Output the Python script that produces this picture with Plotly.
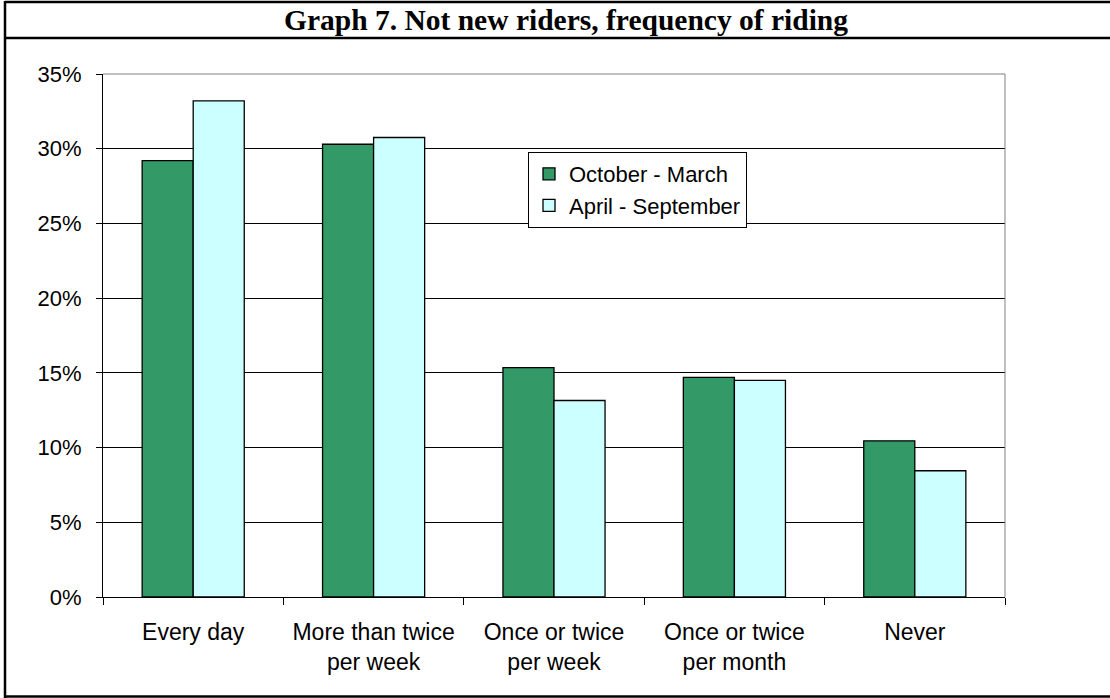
import plotly.graph_objects as go

categories = ["Every day", "More than twice<br>per week", "Once or twice<br>per week",
              "Once or twice<br>per month", "Never"]
oct_mar = [29.2, 30.3, 15.35, 14.7, 10.45]
apr_sep = [33.2, 30.75, 13.15, 14.5, 8.45]
series_names = ["October - March", "April - September"]
title_text = "Graph 7. Not new riders, frequency of riding"

W, H = 1110, 698
L, R, T, B = 103, 1005, 74, 597
pw, ph = R - L, B - T

def px(x):
    return (x - L) / pw

def py(y):
    return (B - y) / ph

fig = go.Figure()
fig.add_trace(go.Bar(x=categories, y=oct_mar, name=series_names[0],
                     marker=dict(color="#339966", line=dict(color="#000000", width=1.3))))
fig.add_trace(go.Bar(x=categories, y=apr_sep, name=series_names[1],
                     marker=dict(color="#CCFFFF", line=dict(color="#000000", width=1.3))))

font_main = "Liberation Sans, Arial, sans-serif"
fig.update_layout(
    width=W, height=H,
    margin=dict(l=L, r=W - R, t=T, b=H - B, pad=0),
    paper_bgcolor="white", plot_bgcolor="white",
    barmode="group", bargap=0.434, bargroupgap=0,
    font=dict(family=font_main, size=22, color="#000000"),
    title=dict(text="<b>" + title_text + "</b>", x=566 / W, xanchor="center",
               y=1 - 20 / H, yanchor="middle",
               font=dict(family="Liberation Serif, Times New Roman, serif", size=29.5, color="#000000")),
    legend=dict(x=px(528), y=py(152), xanchor="left", yanchor="top",
                bgcolor="white", bordercolor="#000000", borderwidth=1,
                font=dict(family=font_main, size=22), tracegroupgap=0, itemwidth=30),
    xaxis=dict(showline=True, linecolor="#000000", linewidth=1,
               ticks="outside", ticklen=7, tickcolor="#000000", tickson="boundaries",
               showgrid=False, tickfont=dict(size=23), ticklabelstandoff=14),
    yaxis=dict(range=[0, 35], dtick=5, ticksuffix="%", showline=True, linecolor="#000000",
               linewidth=1, ticks="outside", ticklen=6, tickcolor="#000000",
               showgrid=True, gridcolor="#000000", gridwidth=1, zeroline=False,
               tickfont=dict(size=22), ticklabelstandoff=10),
)

shapes = []
# plot area border (top and right, gray)
shapes.append(dict(type="line", xref="paper", yref="paper", x0=0, x1=1, y0=1, y1=1,
                   line=dict(color="#808080", width=1)))
shapes.append(dict(type="line", xref="paper", yref="paper", x0=1, x1=1, y0=0, y1=1,
                   line=dict(color="#808080", width=1)))
# outer frame
shapes.append(dict(type="line", xref="paper", yref="paper", x0=px(5), x1=px(W + 5),
                   y0=py(2), y1=py(2), line=dict(color="#000000", width=2.5)))
shapes.append(dict(type="line", xref="paper", yref="paper", x0=px(5), x1=px(W + 5),
                   y0=py(38), y1=py(38), line=dict(color="#000000", width=2.5)))
shapes.append(dict(type="line", xref="paper", yref="paper", x0=px(5), x1=px(W + 5),
                   y0=py(696.5), y1=py(696.5), line=dict(color="#000000", width=2.5)))
shapes.append(dict(type="line", xref="paper", yref="paper", x0=px(5), x1=px(5),
                   y0=py(1), y1=py(698), line=dict(color="#000000", width=2.5)))
fig.update_layout(shapes=shapes)

fig.write_html("out.html", config={"displayModeBar": False},
               post_script="document.body.style.margin='0';document.body.style.padding='0';document.body.style.overflow='hidden';")
